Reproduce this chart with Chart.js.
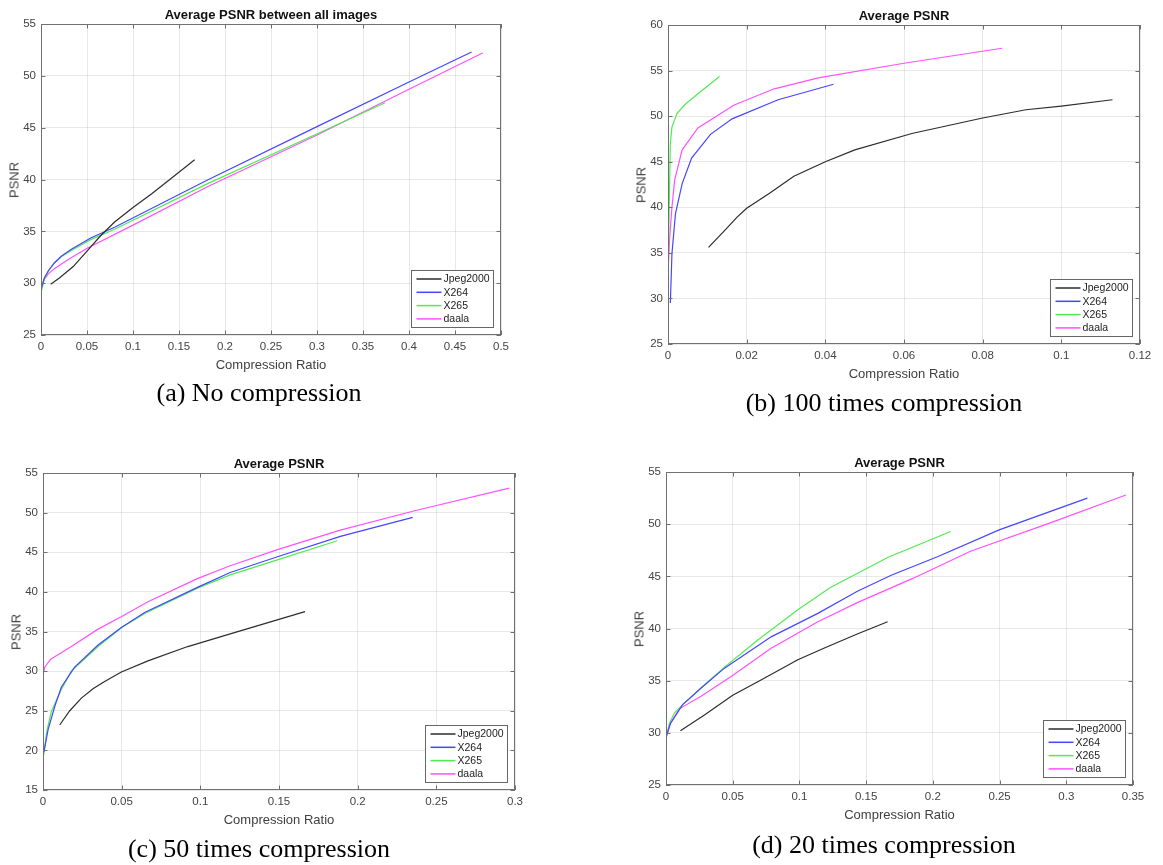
<!DOCTYPE html>
<html>
<head>
<meta charset="utf-8">
<script src="https://cdn.jsdelivr.net/npm/chart.js@4.4.1/dist/chart.umd.min.js"></script>
<style>
  html, body { margin: 0; padding: 0; background: #fff; }
  #page { position: relative; width: 1163px; height: 865px; overflow: hidden; }
  canvas { position: absolute; }
  .txt { position: absolute; white-space: nowrap; font-family: "Liberation Sans", Arial, sans-serif; }
  .title { font-size: 13px; font-weight: bold; color: #111; line-height: 15px; text-align: center; }
  .axl { font-size: 13px; color: #404040; line-height: 15px; text-align: center; }
  .cap { font-family: "Liberation Serif", "Times New Roman", serif; font-size: 26px; line-height: 30px; color: #000; text-align: center; }
</style>
</head>
<body>
<div id="page"></div>
<script>
// series shared by all four plots
const seriesNames = ["Jpeg2000", "X264", "X265", "daala"];
const seriesColors = ["rgb(45,45,45)", "rgb(70,70,255)", "rgb(80,235,80)", "rgb(255,80,255)"];

// (a) No compression  [compression ratio, PSNR]
const jpegA = [[0.0105,29.9],[0.02,30.5],[0.035,31.6],[0.05,33.1],[0.065,34.6],[0.08,35.9],[0.1,37.3],[0.12,38.6],[0.14,40.0],[0.167,41.9]];
const x264A = [[0,29.4],[0.0036,30.5],[0.008,31.2],[0.0145,31.95],[0.022,32.6],[0.0326,33.25],[0.054,34.35],[0.08,35.4],[0.181,39.95],[0.3,45.1],[0.4,49.4],[0.468,52.3]];
const x265A = [[0,29.1],[0.004,30.5],[0.009,31.3],[0.015,32.0],[0.022,32.55],[0.033,33.15],[0.054,34.2],[0.08,35.2],[0.181,39.6],[0.28,43.6],[0.374,47.4]];
const daalaA = [[0,29.4],[0.003,30.3],[0.008,30.9],[0.0145,31.4],[0.03,32.3],[0.0507,33.4],[0.1,35.6],[0.181,39.3],[0.3,44.3],[0.4,48.7],[0.48,52.2]];
const xTicksA = [0,0.05,0.1,0.15,0.2,0.25,0.3,0.35,0.4,0.45,0.5];
const yTicksA = [25,30,35,40,45,50,55];

// (b) 100 times compression
const jpegB = [[0.0103,35.6],[0.0145,37.5],[0.0175,38.9],[0.02,39.9],[0.026,41.6],[0.032,43.4],[0.04,45.0],[0.0475,46.3],[0.062,48.1],[0.08,49.8],[0.091,50.7],[0.1,51.1],[0.113,51.8]];
const x264B = [[0.0006,29.5],[0.001,34.9],[0.0019,39.3],[0.0036,42.6],[0.006,45.4],[0.0108,48.0],[0.0163,49.7],[0.028,51.8],[0.0421,53.5]];
const x265B = [[0,31.8],[0.0003,40.0],[0.0006,47.0],[0.001,48.8],[0.0023,50.3],[0.0044,51.3],[0.008,52.6],[0.0131,54.35]];
const daalaB = [[0,32.7],[0.0004,36.5],[0.001,40.0],[0.0017,43.0],[0.0036,46.3],[0.0076,48.7],[0.0167,51.2],[0.027,53.0],[0.0382,54.2],[0.06,55.8],[0.0849,57.45]];
const xTicksB = [0,0.02,0.04,0.06,0.08,0.1,0.12];
const yTicksB = [25,30,35,40,45,50,55,60];

// (c) 50 times compression
const jpegC = [[0.0106,23.2],[0.017,25.0],[0.0244,26.6],[0.032,27.8],[0.0392,28.7],[0.0498,29.9],[0.0667,31.3],[0.092,33.1],[0.119,34.7],[0.1665,37.5]];
const x264C = [[0.0006,19.8],[0.0032,22.6],[0.0074,25.5],[0.0117,28.0],[0.0201,30.5],[0.035,33.3],[0.0498,35.5],[0.0646,37.4],[0.0985,40.6],[0.119,42.45],[0.15,44.5],[0.189,47.0],[0.235,49.4]];
const x265C = [[0.0004,19.4],[0.0025,22.5],[0.0053,24.9],[0.0117,27.7],[0.018,30.0],[0.035,33.1],[0.05,35.5],[0.065,37.3],[0.0985,40.5],[0.119,42.15],[0.15,44.1],[0.187,46.45]];
const daalaC = [[0,29.5],[0.0011,30.5],[0.0049,31.5],[0.018,33.1],[0.035,35.3],[0.05,36.9],[0.0667,38.75],[0.0985,41.7],[0.119,43.3],[0.15,45.4],[0.189,47.8],[0.2375,50.3],[0.2964,53.1]];
const xTicksC = [0,0.05,0.1,0.15,0.2,0.25,0.3];
const yTicksC = [15,20,25,30,35,40,45,50,55];

// (d) 20 times compression
const jpegD = [[0.0108,30.2],[0.0288,31.7],[0.05,33.6],[0.0688,34.9],[0.0988,37.0],[0.12,38.2],[0.1438,39.5],[0.1661,40.65]];
const x264D = [[0,29.6],[0.0033,30.9],[0.0125,32.7],[0.0263,34.3],[0.0438,36.2],[0.0788,39.2],[0.1138,41.45],[0.1438,43.6],[0.1688,45.1],[0.2039,46.9],[0.2497,49.45],[0.3158,52.5]];
const x265D = [[0,29.4],[0.0025,30.9],[0.0063,31.9],[0.0125,32.7],[0.0263,34.3],[0.0438,36.3],[0.0688,38.9],[0.0988,41.8],[0.1229,43.9],[0.1661,46.8],[0.2133,49.3]];
const daalaD = [[0,29.5],[0.0033,30.9],[0.01,32.3],[0.0263,33.5],[0.0488,35.4],[0.0788,38.1],[0.1138,40.65],[0.1438,42.5],[0.185,44.8],[0.2282,47.4],[0.2875,50.1],[0.3447,52.8]];
const xTicksD = [0,0.05,0.1,0.15,0.2,0.25,0.3,0.35];
const yTicksD = [25,30,35,40,45,50,55];

// plot boxes in page pixels (left, top, right, bottom) and caption centres
const panels = [
  { lines: [jpegA, x264A, x265A, daalaA], xt: xTicksA, yt: yTicksA, box: [41, 24, 501, 335],
    title: "Average PSNR between all images", caption: "(a) No compression", cap: [259, 393] },
  { lines: [jpegB, x264B, x265B, daalaB], xt: xTicksB, yt: yTicksB, box: [668, 25, 1140, 344],
    title: "Average PSNR", caption: "(b) 100 times compression", cap: [884, 403] },
  { lines: [jpegC, x264C, x265C, daalaC], xt: xTicksC, yt: yTicksC, box: [43, 473, 515, 790],
    title: "Average PSNR", caption: "(c) 50 times compression", cap: [259, 849] },
  { lines: [jpegD, x264D, x265D, daalaD], xt: xTicksD, yt: yTicksD, box: [666, 472, 1133, 785],
    title: "Average PSNR", caption: "(d) 20 times compression", cap: [884, 845] },
];

const ML = 40, MT = 12, MR = 22, MB = 24;
const frameColor = "#707070";
Chart.defaults.font.family = '"Liberation Sans", Arial, sans-serif';

// axes box, inward tick marks and a MATLAB-like legend in the lower right
const framePlugin = {
  id: "frame",
  afterDraw(chart) {
    const { ctx, chartArea: a, scales } = chart;
    ctx.save();
    ctx.strokeStyle = frameColor;
    ctx.lineWidth = 1;
    ctx.strokeRect(a.left + 0.5, a.top + 0.5, a.right - a.left - 1, a.bottom - a.top - 1);
    const tl = 4.5;
    ctx.beginPath();
    scales.x.ticks.forEach((t) => {
      const px = Math.round(scales.x.getPixelForValue(t.value)) + 0.5;
      ctx.moveTo(px, a.bottom); ctx.lineTo(px, a.bottom - tl);
      ctx.moveTo(px, a.top); ctx.lineTo(px, a.top + tl);
    });
    scales.y.ticks.forEach((t) => {
      const py = Math.round(scales.y.getPixelForValue(t.value)) + 0.5;
      ctx.moveTo(a.left, py); ctx.lineTo(a.left + tl, py);
      ctx.moveTo(a.right, py); ctx.lineTo(a.right - tl, py);
    });
    ctx.stroke();

    // legend
    const w = 82, h = 57, inset = 8;
    const lx = Math.round(a.right - inset - w) + 0.5;
    const ly = Math.round(a.bottom - inset - h) + 0.5;
    ctx.fillStyle = "#fff";
    ctx.fillRect(lx, ly, w, h);
    ctx.strokeStyle = "#666";
    ctx.strokeRect(lx, ly, w, h);
    ctx.font = '10.5px "Liberation Sans", Arial, sans-serif';
    ctx.textBaseline = "middle";
    chart.data.datasets.forEach((ds, i) => {
      const y = ly + 8.5 + i * 13.3;
      ctx.strokeStyle = ds.borderColor;
      ctx.lineWidth = 1.5;
      ctx.beginPath();
      ctx.moveTo(lx + 5, y); ctx.lineTo(lx + 30, y);
      ctx.stroke();
      ctx.fillStyle = "#222";
      ctx.fillText(ds.label, lx + 32, y + 0.5);
    });
    ctx.restore();
  },
};

const page = document.getElementById("page");

function addText(cls, text, cx, cy, rotate) {
  const d = document.createElement("div");
  d.className = "txt " + cls;
  d.textContent = text;
  d.style.left = cx + "px";
  d.style.top = cy + "px";
  d.style.transform = "translate(-50%, -50%)" + (rotate ? " rotate(-90deg)" : "");
  page.appendChild(d);
}

const fmt = (v) => String(parseFloat(Number(v).toFixed(4)));

panels.forEach((p) => {
  const [L, T, R, B] = p.box;
  const canvas = document.createElement("canvas");
  canvas.width = R - L + ML + MR;
  canvas.height = B - T + MT + MB;
  canvas.style.left = (L - ML) + "px";
  canvas.style.top = (T - MT) + "px";
  page.appendChild(canvas);

  new Chart(canvas.getContext("2d"), {
    type: "scatter",
    data: {
      datasets: p.lines.map((pts, i) => ({
        label: seriesNames[i],
        data: pts.map(([x, y]) => ({ x, y })),
        showLine: true,
        borderColor: seriesColors[i],
        backgroundColor: seriesColors[i],
        borderWidth: 1.2,
        pointRadius: 0,
        tension: 0,
      })),
    },
    options: {
      responsive: false,
      devicePixelRatio: 1,
      animation: false,
      layout: { padding: { left: 0, top: MT, right: MR, bottom: 0 } },
      plugins: { legend: { display: false }, tooltip: { enabled: false } },
      scales: {
        x: {
          type: "linear",
          min: p.xt[0],
          max: p.xt[p.xt.length - 1],
          afterBuildTicks: (s) => { s.ticks = p.xt.map((v) => ({ value: v })); },
          afterFit: (s) => { s.height = MB; s.paddingLeft = 0; s.paddingRight = 0; },
          grid: { color: "rgba(0,0,0,0.09)", drawTicks: false },
          border: { display: false },
          ticks: { padding: 5, color: "#444", font: { size: 11.5 }, maxRotation: 0, autoSkip: false, callback: fmt },
        },
        y: {
          type: "linear",
          min: p.yt[0],
          max: p.yt[p.yt.length - 1],
          afterBuildTicks: (s) => { s.ticks = p.yt.map((v) => ({ value: v })); },
          afterFit: (s) => { s.width = ML; s.paddingTop = 0; s.paddingBottom = 0; },
          grid: { color: "rgba(0,0,0,0.09)", drawTicks: false },
          border: { display: false },
          ticks: { padding: 5, color: "#444", font: { size: 11.5 }, autoSkip: false, callback: fmt },
        },
      },
    },
    plugins: [framePlugin],
  });

  const cx = (L + R) / 2;
  addText("title", p.title, cx, T - 10.5);
  addText("axl", "Compression Ratio", cx, B + 28.5);
  addText("axl", "PSNR", L - 27.5, (T + B) / 2, true);
  addText("cap", p.caption, p.cap[0], p.cap[1]);
});
</script>
</body>
</html>
